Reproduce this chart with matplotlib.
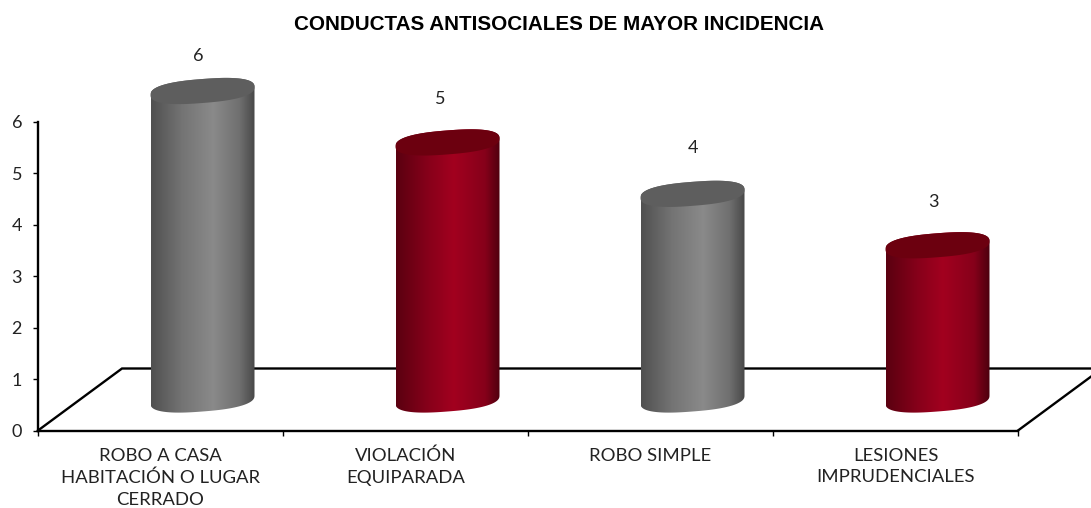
import matplotlib
matplotlib.use('Agg')
import matplotlib.pyplot as plt
import numpy as np
from matplotlib.colors import LinearSegmentedColormap
from matplotlib.patches import Polygon

categories = ['ROBO A CASA\nHABITACIÓN O LUGAR\nCERRADO', 'VIOLACIÓN\nEQUIPARADA',
              'ROBO SIMPLE', 'LESIONES\nIMPRUDENCIALES']
values = [6, 5, 4, 3]
yticks = [0, 1, 2, 3, 4, 5, 6]
title = 'CONDUCTAS ANTISOCIALES DE MAYOR INCIDENCIA'

# px of the picture
W, H = 1091, 508
left, right, y0, y6 = 38, 1018, 430.5, 122
ux = (right - left) / len(values)
uy = (y0 - y6) / 6
depth_x = 84 / ux
depth_y = 62 / uy

grey = LinearSegmentedColormap.from_list('g', [(0, '#505050'), (0.3, '#747474'), (0.6, '#8a8a8a'),
                                               (0.85, '#707070'), (1, '#484848')])
red = LinearSegmentedColormap.from_list('r', [(0, '#5a0010'), (0.3, '#86001a'), (0.55, '#a2001f'),
                                              (0.85, '#86001a'), (1, '#4c000e')])
maps = [grey, red, grey, red]
tops = ['#5e5e5e', '#6c000f', '#5e5e5e', '#6c000f']

plt.rcParams['font.family'] = 'Lato'

fig = plt.figure(figsize=(W / 100, H / 100), dpi=100)
ax = fig.add_axes([left / W, 1 - y0 / H, (right - left) / W, (y0 - y6) / H])

# suelo
floor = [(0, 0), (depth_x, depth_y), (len(values) + depth_x, depth_y), (len(values), 0)]
ax.plot(*zip(*floor), color='black', lw=1.7, clip_on=False, zorder=1, solid_joinstyle='miter')

half = 0.5 * 104 / ux
tilt = 4 / uy
ry = 12 / uy


def rim(a):
    # borde algo mas cuadrado que una elipse, como la tapa original
    c, s = np.cos(a), np.sin(a)
    cx_ = np.sign(c) * np.abs(c) ** 0.8
    sy_ = np.sign(s) * np.abs(s) ** 0.8
    return half * cx_, tilt * cx_ + ry * sy_


for i, v in enumerate(values):
    cx = i + 0.5 + depth_x / 2
    base = depth_y / 2
    # silueta: mitad inferior de la base + mitad superior de la tapa
    lx, ly = rim(np.linspace(np.pi, 2 * np.pi, 60))
    ux_, uy_ = rim(np.linspace(0, np.pi, 60))
    body = Polygon(np.c_[np.r_[cx + lx, cx + ux_], np.r_[base + ly, base + v + uy_]], closed=True,
                   transform=ax.transData, fc='none', ec='none')
    ax.add_patch(body)
    im = ax.imshow(np.linspace(0, 1, 256).reshape(1, -1), cmap=maps[i], aspect='auto',
                   extent=(cx - half, cx + half, base - 1, base + v + 1), zorder=2)
    im.set_clip_box(fig.bbox)
    im.set_clip_path(body)
    ex, ey = rim(np.linspace(0, 2 * np.pi, 121))
    ax.fill(cx + ex, base + v + ey, color=tops[i], zorder=3, clip_on=False, lw=0)

# etiquetas de datos
off_x = [-4, -7, 0, -4]
off_y = [35, 43, 46, 43]
for i, v in enumerate(values):
    ax.annotate(str(v), (i + 0.5 + depth_x / 2, depth_y / 2 + v),
                xytext=(off_x[i] * 0.72, off_y[i] * 0.72),
                textcoords='offset points', ha='center', va='center', fontsize=13, color='#222222',
                annotation_clip=False)

ax.set_xlim(0, len(values))
ax.set_ylim(0, 6)
for s in ['top', 'right']:
    ax.spines[s].set_visible(False)
for s in ['left', 'bottom']:
    ax.spines[s].set_linewidth(1.7)

ax.set_yticks(yticks)
ax.tick_params(axis='y', labelsize=13, length=3.5, width=1, pad=8, labelcolor='#222222')
ax.set_xticks(range(len(values) + 1))
ax.set_xticklabels([])
ax.set_xticks(np.arange(len(values)) + 0.5, categories, minor=True, linespacing=1.43)
ax.tick_params(axis='x', which='minor', length=0, labelsize=13.3, pad=12.5, labelcolor='#222222')
ax.tick_params(axis='x', which='major', length=3.5, width=1)

fig.text(559.5 / W, 1 - 24 / H, title, ha='center', va='center', fontsize=14.9, fontweight='bold',
         family='Liberation Sans', color='black')

fig.savefig('out.png', dpi=100)
